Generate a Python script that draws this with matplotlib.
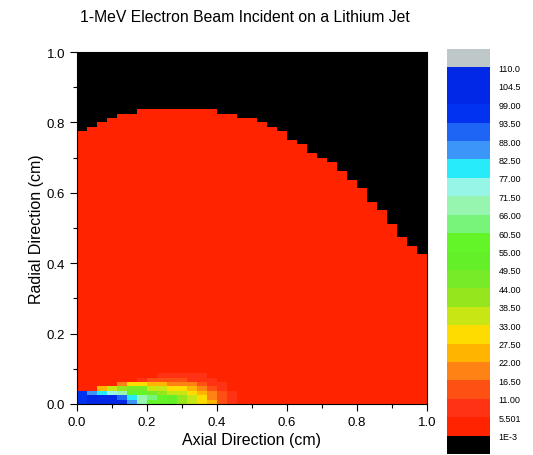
import numpy as np
import matplotlib
matplotlib.use("Agg")
import matplotlib.pyplot as plt
from matplotlib.colors import ListedColormap, BoundaryNorm

plt.rcParams['font.family'] = ['Liberation Sans', 'DejaVu Sans']

# grid (cm)
x_edges = np.linspace(0.0, 1.0, 36)     # 35 kolommen
y_edges = np.linspace(0.0, 1.0, 81)     # 80 rijen

jet_edge = [0.776, 0.783, 0.803, 0.815, 0.824, 0.831, 0.840, 0.838, 0.842, 0.842,
            0.838, 0.836, 0.843, 0.835, 0.831, 0.826, 0.815, 0.807, 0.798, 0.783,
            0.769, 0.750, 0.733, 0.717, 0.703, 0.684, 0.660, 0.634, 0.613, 0.577,
            0.549, 0.511, 0.477, 0.445, 0.430]
jet_value = 3.0

# hete zone onderaan (rijen van onder naar boven, kolommen 0..15)
hot_patch = [
    [96, 107, 107, 107, 102, 85, 69, 58, 58, 52, 41, 36, 30, 25, 14, 8],
    [96, 107, 107, 102, 91, 80, 69, 63, 58, 52, 41, 36, 30, 19, 14, 8],
    [96, 85, 80, 74, 69, 58, 58, 47, 41, 36, 36, 30, 25, 19, 14, 8],
    [3, 3, 25, 36, 41, 47, 47, 36, 36, 30, 30, 25, 19, 14, 8, 3],
    [3, 3, 3, 3, 19, 30, 30, 25, 25, 19, 19, 19, 14, 8, 8, 3],
    [3, 3, 3, 3, 3, 3, 8, 14, 14, 14, 14, 8, 8, 8, 3, 3],
    [3, 3, 3, 3, 3, 3, 3, 3, 8, 8, 8, 8, 8, 3, 3, 3],
]

levels = [1e-3, 5.501, 11.0, 16.5, 22.0, 27.5, 33.0, 38.5, 44.0, 49.5, 55.0,
          60.5, 66.0, 71.5, 77.0, 82.5, 88.0, 93.5, 99.0, 104.5, 110.0]
level_labels = ['1E-3', '5.501', '11.00', '16.50', '22.00', '27.50', '33.00',
                '38.50', '44.00', '49.50', '55.00', '60.50', '66.00', '71.50',
                '77.00', '82.50', '88.00', '93.50', '99.00', '104.5', '110.0']
colors = ['#ff2300', '#ff3214', '#ff5014', '#ff8214', '#ffb400', '#ffdc00',
          '#c8e614', '#96e61e', '#78eb28', '#64f028', '#64f528', '#78f578',
          '#96f5af', '#96f5e6', '#28ebfa', '#3c96fa', '#1e64f5', '#0032f0',
          '#0028e6', '#0028e6']

# waarden opbouwen
ny, nx = len(y_edges) - 1, len(x_edges) - 1
y_mid = 0.5 * (y_edges[:-1] + y_edges[1:])
Z = np.zeros((ny, nx))
for i in range(nx):
    Z[y_mid < jet_edge[i], i] = jet_value
hp = np.array(hot_patch, dtype=float)
Z[:hp.shape[0], :hp.shape[1]] = hp

cmap = ListedColormap(colors)
cmap.set_under('black')
cmap.set_over('#bec8c8')
norm = BoundaryNorm(levels, cmap.N)

fig = plt.figure(figsize=(5.33, 4.56), dpi=100)
ax = fig.add_axes([77/533, 51/456, 350/533, 352/456])
mesh = ax.pcolormesh(x_edges, y_edges, Z, cmap=cmap, norm=norm, edgecolors='none')
ax.set_xlim(0, 1)
ax.set_ylim(0, 1)
ax.set_xticks(np.arange(0, 1.01, 0.2))
ax.set_yticks(np.arange(0, 1.01, 0.2))
ax.set_xticks(np.arange(0.1, 1.0, 0.2), minor=True)
ax.set_yticks(np.arange(0.1, 1.0, 0.2), minor=True)
ax.set_xticklabels(['%.1f' % v for v in np.arange(0, 1.01, 0.2)])
ax.set_yticklabels(['%.1f' % v for v in np.arange(0, 1.01, 0.2)])
ax.tick_params(which='major', direction='out', length=5, width=0.8, labelsize=9.5)
ax.tick_params(which='minor', direction='out', length=3, width=0.8)
ax.set_xlabel('Axial Direction (cm)', fontsize=11.5, labelpad=3)
ax.set_ylabel('Radial Direction (cm)', fontsize=11.5, labelpad=2)

fig.text(0.46, 1 - 17/456, '1-MeV Electron Beam Incident on a Lithium Jet',
         ha='center', va='center', fontsize=11.3)

# kleurenschaal
cax = fig.add_axes([447/533, 1/456, 43/533, 405/456])
cb = fig.colorbar(mesh, cax=cax, extend='both', extendrect=True, extendfrac=0.05,
                  ticks=levels, spacing='uniform')
cb.set_ticklabels(level_labels)
cb.outline.set_visible(False)
cax.tick_params(length=0, pad=6, labelsize=6.5)

fig.savefig('out.png', dpi=100)
